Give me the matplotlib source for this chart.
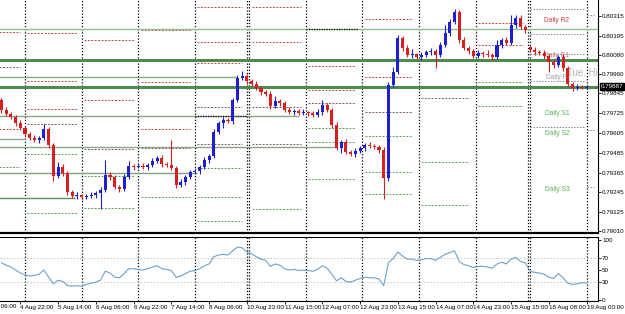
import matplotlib
matplotlib.use("Agg")
import matplotlib.pyplot as plt
import matplotlib.transforms as mtransforms

# x axis is in trading hours, 0 = 5 Aug 00:00 (weekend hours skipped); one candle per 2 hours
hours = list(range(-10, 239, 2))

closes = [
    0.79744, 0.79720, 0.79702, 0.79665, 0.79635, 0.79599, 0.79574, 0.79562, 0.79574, 0.79629,
    0.79532, 0.79344, 0.79398, 0.79362, 0.79247, 0.79222, 0.79226, 0.79216, 0.79222, 0.79228,
    0.79241, 0.79259, 0.79350, 0.79338, 0.79277, 0.79265, 0.79336, 0.79404, 0.79401, 0.79404,
    0.79398, 0.79410, 0.79435, 0.79453, 0.79417, 0.79410, 0.79392, 0.79289, 0.79307, 0.79338,
    0.79368, 0.79374, 0.79398, 0.79441, 0.79465, 0.79611, 0.79665, 0.79684, 0.79678, 0.79805,
    0.79939, 0.79951, 0.79920, 0.79902, 0.79878, 0.79854, 0.79841, 0.79769, 0.79799, 0.79787,
    0.79744, 0.79732, 0.79738, 0.79726, 0.79730, 0.79726, 0.79714, 0.79732, 0.79775, 0.79744,
    0.79653, 0.79514, 0.79550, 0.79489, 0.79477, 0.79495, 0.79514, 0.79532, 0.79526, 0.79520,
    0.79501, 0.79332, 0.79896, 0.79975, 0.80181, 0.80121, 0.80078, 0.80082, 0.80066, 0.80078,
    0.80096, 0.80102, 0.80078, 0.80139, 0.80212, 0.80278, 0.80339, 0.80169, 0.80121, 0.80102,
    0.80072, 0.80090, 0.80087, 0.80078, 0.80066, 0.80139, 0.80169, 0.80150, 0.80260, 0.80303,
    0.80248, 0.80230, 0.80109, 0.80096, 0.80090, 0.80072, 0.80036, 0.80017, 0.80066, 0.79999,
    0.79902, 0.79878, 0.79884, 0.79880, 0.79887,
]
opens = [0.79805] + closes[:-1]
opens[112] = 0.80125  # monday gap

# wicks in pips beyond the body
up_wick = [
    1, 2, 1, 1, 2, 1, 1, 2, 1, 3,
    1, 1, 3, 2, 1, 1, 2, 1, 1, 2,
    1, 2, 9, 2, 1, 1, 2, 3, 1, 2,
    2, 1, 2, 1, 2, 1, 15, 1, 2, 1,
    1, 2, 1, 2, 1, 2, 1, 2, 1, 1,
    2, 3, 1, 1, 2, 1, 1, 2, 3, 1,
    1, 2, 1, 1, 2, 1, 1, 2, 3, 1,
    1, 2, 1, 2, 1, 2, 1, 1, 2, 1,
    1, 2, 2, 3, 2, 1, 2, 3, 1, 2,
    1, 2, 1, 2, 5, 2, 2, 1, 2, 1,
    1, 2, 1, 2, 1, 3, 1, 2, 6, 2,
    2, 1, 1, 2, 1, 2, 1, 2, 1, 2,
    1, 1, 2, 1, 1,
]
low_wick = [
    2, 1, 1, 2, 1, 2, 1, 1, 2, 1,
    2, 3, 1, 2, 2, 1, 2, 2, 1, 1,
    2, 10, 1, 2, 1, 2, 1, 1, 2, 1,
    1, 2, 1, 1, 2, 1, 1, 2, 1, 2,
    1, 1, 2, 1, 2, 1, 1, 3, 1, 2,
    1, 1, 2, 1, 1, 2, 1, 2, 1, 2,
    1, 1, 2, 1, 1, 2, 1, 1, 2, 1,
    2, 1, 3, 1, 1, 2, 1, 2, 1, 1,
    2, 13, 2, 1, 1, 2, 1, 2, 1, 2,
    1, 2, 8, 1, 1, 2, 1, 2, 1, 2,
    1, 1, 2, 1, 2, 1, 2, 1, 1, 2,
    1, 2, 1, 2, 1, 2, 6, 2, 1, 2,
    1, 2, 1, 1, 1,
]

# oscillator in lower window
osc = [
    62, 58, 55, 50, 45, 42, 40, 41, 43, 50,
    38, 27, 33, 31, 24, 23, 24, 23, 26, 28,
    30, 33, 48, 45, 38, 37, 44, 52, 52, 51,
    50, 52, 55, 57, 52, 51, 49, 38, 40, 44,
    48, 49, 52, 57, 60, 72, 75, 76, 75, 82,
    88, 87, 80, 77, 72, 68, 66, 56, 60, 58,
    52, 50, 51, 49, 50, 49, 48, 51, 57, 53,
    43, 32, 37, 31, 30, 33, 36, 38, 37, 37,
    35, 24, 62, 69, 80, 73, 68, 68, 66, 67,
    69, 69, 66, 71, 76, 79, 82, 64, 59, 57,
    54, 56, 56, 55, 53, 60, 63, 60, 68, 71,
    64, 62, 48, 46, 45, 43, 38, 36, 44, 37,
    28, 26, 27, 29, 28,
]

separators = [0, 24, 48, 72, 94, 95, 119, 143, 167, 191, 213, 214, 238]

tick_hours = [-2, 14, 30, 46, 62, 78, 94, 110, 126, 142, 158, 174, 190, 206, 222, 238]
tick_labels = ["4 Aug 22:00", "5 Aug 14:00", "6 Aug 06:00", "6 Aug 22:00",
               "7 Aug 14:00", "8 Aug 06:00", "10 Aug 23:00", "11 Aug 15:00", "12 Aug 07:00",
               "12 Aug 23:00", "13 Aug 15:00", "14 Aug 07:00", "14 Aug 23:00", "15 Aug 15:00",
               "18 Aug 08:00", "19 Aug 00:00"]
first_tick_hour, first_tick_label = -18, "4 Aug 06:00"  # mostly off the left edge

price_ticks = [0.80315, 0.80195, 0.80080, 0.79960, 0.79845, 0.79725, 0.79605,
               0.79485, 0.79365, 0.79245, 0.79125, 0.79010]
last_price = 0.79887

# horizontal lines drawn on the chart: (price, from hour, to hour, width, colour)
hlines_solid = [
    (0.80236, -11, 243, 1.0, "#8fbf8f"),
    (0.80048, -11, 243, 2.2, "#4e8a4e"),
    (0.79887, -11, 243, 2.2, "#4e8a4e"),
    (0.79945, -11, 90, 1.0, "#7fae7f"),
    (0.79708, -11, 116, 1.0, "#8aa58a"),
    (0.79520, -11, 132, 1.0, "#8aa58a"),
    (0.79568, -11, 0, 1.0, "#7fae7f"),
    (0.79362, -11, 73, 1.0, "#7f9f7f"),
    (0.79210, -11, 21, 1.0, "#5f8f5f"),
]
hlines_dotted = [(0.79708, 72, 94), (0.80236, 119, 141)]

# daily pivot segments: (start, end, red levels, dark levels, green levels)
pivot_days = [
    (-11, -2, [0.80218, 0.79629], [0.80005], [0.79398]),
    (1, 22, [0.80212, 0.79920, 0.79750], [0.79659], [0.79477, 0.79119]),
    (25, 46, [0.80169, 0.79805], [0.79508], [0.79344, 0.79150]),
    (49, 70, [0.80230, 0.79914, 0.79629], [0.79514], [0.79216]),
    (73, 92, [0.80370, 0.80157, 0.80030], [0.79763, 0.79538], [0.79392, 0.79216, 0.79071]),
    (96, 117, [0.80370, 0.80157], [0.79763, 0.79538], [0.79143]),
    (120, 140, [0.80011, 0.79866], [0.79787], [0.79635, 0.79550, 0.79326]),
    (144, 164, [0.80297, 0.79945], [0.79732], [0.79587, 0.79368, 0.79234]),
    (168, 188, [], [0.79817], [0.79429, 0.79168]),
    (192, 211, [0.80272, 0.80139], [], [0.79914, 0.79769]),
]
grey_days = [
    (214, 237, [0.80357, 0.80206, 0.80084, 0.79920, 0.79641]),
    (238, 241, [0.80321, 0.79623, 0.79277]),
]

pivot_names = ["Daily R2", "Daily R1", "Daily P", "Daily S1", "Daily S2", "Daily S3"]
pivot_name_prices = [0.80285, 0.80078, 0.79939, 0.79726, 0.79599, 0.79259]
pivot_name_colors = ["#c83c3c", "#c87070", "#9a9a9a", "#55b055", "#55b055", "#55b055"]

plt.rcParams["font.family"] = ["Liberation Sans", "DejaVu Sans"]
fig = plt.figure(figsize=(6.25, 3.14), dpi=100)
ax = fig.add_axes([0, 81 / 314, 598 / 625, 233 / 314])
ax2 = fig.add_axes([0, 13 / 314, 598 / 625, 64 / 314], sharex=ax)

xmin, xmax = -10.6, 242.8
ax.set_xlim(xmin, xmax)
ax.set_ylim(0.78998, 0.80412)

for price, h0, h1, lw, col in hlines_solid:
    ax.plot([h0, h1], [price, price], color=col, lw=lw, zorder=2, solid_capstyle="butt")
for price, h0, h1 in hlines_dotted:
    ax.plot([h0, h1], [price, price], color="black", lw=0.9, ls=(0, (1, 1)), zorder=2.5)

for start, end, reds, darks, greens in pivot_days:
    for p in reds:
        ax.plot([start, end], [p, p], color="#c04848", lw=0.7, ls=(0, (2, 1.5)), zorder=1.5)
    for p in darks:
        ax.plot([start, end], [p, p], color="#7a5a5a", lw=0.7, ls=(0, (2, 1.5)), zorder=1.5)
    for p in greens:
        ax.plot([start, end], [p, p], color="#5aa05a", lw=0.7, ls=(0, (2, 1.5)), zorder=1.5)
for start, end, levels in grey_days:
    for p in levels:
        ax.plot([start, end], [p, p], color="#8a8a8a", lw=0.7, ls=(0, (1.5, 1.5)), zorder=1.5)

for name, p, col in zip(pivot_names, pivot_name_prices, pivot_name_colors):
    ax.text(225.4, p, name, color=col, fontsize=4.8, ha="center", va="center", zorder=1.8)
ax.text(242.6, 0.79969, "Tue. Hi", color="#b4b4b4", fontsize=7, ha="right", va="center",
        zorder=1.8, clip_on=True)

for s in separators:
    ax.axvline(s, color="black", lw=0.9, ls=(0, (1, 1.5)), zorder=1)
    ax2.axvline(s, color="black", lw=0.9, ls=(0, (1, 1.5)), zorder=1)

# candles
pip = 0.0001
bull, bear = "#1f1fd0", "#d42020"
for h, o, c, uw, lw_ in zip(hours, opens, closes, up_wick, low_wick):
    col = bull if c >= o else bear
    top, bot = max(o, c), min(o, c)
    ax.vlines(h, bot - lw_ * pip, top + uw * pip, color=col, lw=0.8, zorder=3)
    ax.bar(h, max(top - bot, 0.00003), bottom=bot, width=1.3, color=col, lw=0, zorder=3)

# right price axis
ax.yaxis.tick_right()
ax.set_yticks(price_ticks)
ax.set_yticklabels(["%.5f" % p for p in price_ticks])
ax.tick_params(axis="y", labelsize=4.5, length=2, pad=1, width=0.6)
ax.tick_params(axis="x", bottom=False, labelbottom=False)
for side in ["left", "top"]:
    ax.spines[side].set_visible(False)
ax.spines["right"].set_linewidth(0.8)
ax.spines["bottom"].set_linewidth(1.6)

trans = mtransforms.blended_transform_factory(ax.transAxes, ax.transData)
ax.text(1.004, last_price, "%.5f" % last_price, transform=trans, color="white", fontsize=4.5,
        ha="left", va="center",
        bbox=dict(boxstyle="square,pad=0.12", fc="black", ec="black"))

# lower oscillator window
ax2.plot(hours, osc, color="#6f9fc8", lw=0.8, zorder=3)
ax2.set_ylim(-1.6, 104.9)
for lvl in [30, 70]:
    ax2.axhline(lvl, color="#c0c0c0", lw=0.6, ls=(0, (2, 2)), zorder=1)
ax2.yaxis.tick_right()
ax2.set_yticks([0, 30, 50, 70, 100])
ax2.set_yticklabels(["0", "30", "50", "70", "100"])
ax2.tick_params(axis="y", labelsize=4.5, length=2, pad=1, width=0.6)
ax2.set_xticks(tick_hours)
ax2.set_xticklabels(tick_labels, ha="left")
ax2.tick_params(axis="x", labelsize=4.5, length=2, pad=1, width=0.6)
ax2.spines["left"].set_visible(False)
for side in ["top", "right", "bottom"]:
    ax2.spines[side].set_linewidth(0.8)
ax2.set_xlim(xmin, xmax)

# first time label sits left of the visible range, only its end shows
btrans = mtransforms.blended_transform_factory(ax2.transData, ax2.transAxes)
ax2.text(first_tick_hour, -0.045, first_tick_label, transform=btrans, fontsize=4.5,
         ha="left", va="top", clip_on=False)

fig.savefig("out.png", dpi=100, facecolor="white")
